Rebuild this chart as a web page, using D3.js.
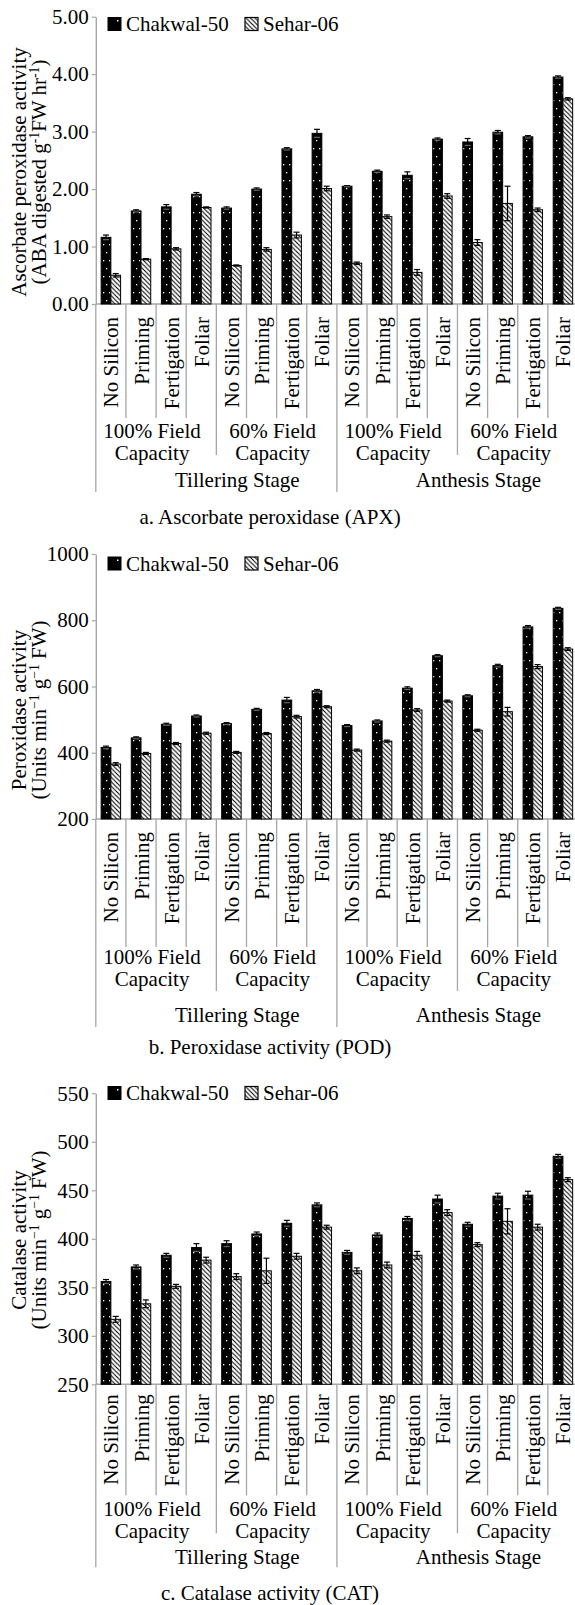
<!DOCTYPE html>
<html>
<head>
<meta charset="utf-8">
<script src="https://cdnjs.cloudflare.com/ajax/libs/d3/7.8.5/d3.min.js"></script>
<style>
body { margin: 0; background: #fff; }
</style>
</head>
<body>
<div id="chart"></div>
<script>
// categories
var treatments = ["No Silicon", "Priming", "Fertigation", "Foliar"];
var capacities = [["100% Field", "Capacity"], ["60% Field", "Capacity"]];
var stages = ["Tillering Stage", "Anthesis Stage"];
var cultivars = ["Chakwal-50", "Sehar-06"];

// a. APX
var apxChakwal = [1.16, 1.62, 1.69, 1.91, 1.67, 2.00, 2.70, 2.97, 2.05, 2.31, 2.24, 2.87, 2.82, 2.99, 2.91, 3.95];
var apxSehar = [0.50, 0.78, 0.96, 1.68, 0.67, 0.95, 1.20, 2.01, 0.71, 1.52, 0.55, 1.88, 1.07, 1.75, 1.64, 3.57];
var apxChakwalErr = [0.04, 0.02, 0.04, 0.03, 0.02, 0.02, 0.02, 0.07, 0.01, 0.02, 0.06, 0.02, 0.06, 0.03, 0.02, 0.02];
var apxSeharErr = [0.03, 0.01, 0.02, 0.01, 0.01, 0.03, 0.05, 0.04, 0.02, 0.03, 0.05, 0.04, 0.05, 0.30, 0.03, 0.02];
var apxTicks = [0, 1, 2, 3, 4, 5];

// b. POD
var podChakwal = [416, 445, 486, 511, 488, 531, 559, 587, 482, 496, 595, 693, 572, 663, 780, 836];
var podSehar = [366, 398, 428, 459, 401, 458, 509, 539, 408, 435, 529, 556, 468, 524, 660, 713];
var podChakwalErr = [4, 3, 3, 3, 3, 3, 8, 4, 3, 3, 4, 3, 3, 4, 4, 3];
var podSeharErr = [4, 3, 3, 3, 3, 3, 4, 3, 3, 3, 4, 3, 3, 13, 6, 4];
var podTicks = [200, 400, 600, 800, 1000];

// c. CAT
var catChakwal = [356, 371, 383, 391, 395, 405, 416, 435, 386, 404, 421, 441, 415, 444, 445, 485];
var catSehar = [317, 333, 351, 378, 361, 367, 382, 412, 367, 373, 383, 427, 394, 418, 412, 461];
var catChakwalErr = [2, 2, 2, 4, 3, 2, 3, 2, 2, 2, 2, 4, 2, 3, 4, 2];
var catSeharErr = [3, 4, 2, 3, 3, 13, 3, 2, 3, 3, 4, 3, 2, 13, 3, 2];
var catTicks = [250, 300, 350, 400, 450, 500, 550];

var W = 575, H = 1605, FS = 21;
var FONT = "'Liberation Serif', 'Times New Roman', serif";
var grey = "#a6a6a6";

var svg = d3.select("#chart").append("svg")
    .attr("width", W)
    .attr("height", H);

svg.append("rect").attr("width", W).attr("height", H).attr("fill", "#fff");

var defs = svg.append("defs");
var dots = defs.append("pattern")
    .attr("id", "dots")
    .attr("patternUnits", "userSpaceOnUse")
    .attr("width", 6).attr("height", 16);
dots.append("rect").attr("width", 6).attr("height", 16).attr("fill", "#000");
dots.append("rect").attr("x", 1).attr("y", 4).attr("width", 1.3).attr("height", 1.3).attr("fill", "#fff");
dots.append("rect").attr("x", 4).attr("y", 12).attr("width", 1.3).attr("height", 1.3).attr("fill", "#fff");

var hatch = defs.append("pattern")
    .attr("id", "hatch")
    .attr("patternUnits", "userSpaceOnUse")
    .attr("width", 4.5).attr("height", 4.5);
hatch.append("rect").attr("width", 4.5).attr("height", 4.5).attr("fill", "#fff");
hatch.append("path")
    .attr("d", "M-1,-1L5.5,5.5M-1,3.5L1,5.5M3.5,-1L5.5,1")
    .attr("stroke", "#000")
    .attr("stroke-width", 1.1);

var x = d3.scaleBand().domain(d3.range(16)).range([95.8, 578]);
var xs = d3.scaleBand().domain(cultivars).range([0, x.bandwidth()]).paddingOuter(0.55);

function drawChart(cfg) {
    var g = svg.append("g");
    var y = d3.scaleLinear().domain(cfg.domain).range([cfg.bottom, cfg.top]);

    // y axis
    var yAxis = g.append("g")
        .attr("transform", "translate(95.8,0)")
        .call(d3.axisLeft(y).tickValues(cfg.ticks).tickFormat(cfg.fmt).tickSize(4).tickSizeOuter(0).tickPadding(3));
    yAxis.select(".domain").attr("stroke", grey).attr("stroke-width", 1.4);
    yAxis.selectAll(".tick line").attr("stroke", grey).attr("stroke-width", 1.2);
    yAxis.selectAll(".tick text").attr("font-size", FS);

    // bottom axis line
    g.append("line")
        .attr("x1", x.range()[0]).attr("x2", x.range()[1])
        .attr("y1", cfg.bottom).attr("y2", cfg.bottom)
        .attr("stroke", grey).attr("stroke-width", 1.4);

    // separators
    var bounds = d3.range(16);
    g.selectAll(".sep").data(bounds).enter().append("line")
        .attr("x1", d => x(d)).attr("x2", d => x(d))
        .attr("y1", cfg.bottom)
        .attr("y2", d => cfg.bottom + (d % 8 === 0 ? cfg.stageSep : d % 4 === 0 ? cfg.capSep : cfg.catSep))
        .attr("stroke", grey).attr("stroke-width", 1.3);

    // bars
    var series = [
        {name: cultivars[0], vals: cfg.a, errs: cfg.aErr, fill: "url(#dots)"},
        {name: cultivars[1], vals: cfg.b, errs: cfg.bErr, fill: "url(#hatch)"}
    ];
    series.forEach(function(s) {
        g.selectAll(null).data(s.vals).enter().append("rect")
            .attr("x", (d, i) => x(i) + xs(s.name))
            .attr("y", d => y(d))
            .attr("width", xs.bandwidth())
            .attr("height", d => cfg.bottom - y(d))
            .attr("fill", s.fill)
            .attr("stroke", "#000")
            .attr("stroke-width", 1);

        var eb = g.selectAll(null).data(s.vals).enter().append("g")
            .attr("transform", (d, i) => "translate(" + (x(i) + xs(s.name) + xs.bandwidth() / 2) + ",0)");
        eb.append("line")
            .attr("y1", (d, i) => y(d - s.errs[i]))
            .attr("y2", (d, i) => y(d + s.errs[i]))
            .attr("stroke", "#000").attr("stroke-width", 1.2);
        eb.append("line")
            .attr("x1", -3).attr("x2", 3)
            .attr("y1", (d, i) => y(d + s.errs[i]))
            .attr("y2", (d, i) => y(d + s.errs[i]))
            .attr("stroke", "#000").attr("stroke-width", 1.2);
        eb.append("line")
            .attr("x1", -3).attr("x2", 3)
            .attr("y1", (d, i) => y(d - s.errs[i]))
            .attr("y2", (d, i) => y(d - s.errs[i]))
            .attr("stroke", s.name === cultivars[0] ? "#666" : "#000").attr("stroke-width", 1.2);
    });

    // category labels
    g.selectAll(".cat").data(d3.range(16)).enter().append("text")
        .attr("transform", d => "translate(" + (x(d) + x.bandwidth() / 2 + 7.5) + "," + (cfg.bottom + cfg.catTop) + ") rotate(-90)")
        .attr("text-anchor", "end")
        .attr("font-size", FS)
        .text(d => treatments[d % 4]);

    // capacity labels
    d3.range(4).forEach(function(k) {
        var cx = x(k * 4) + 2 * x.step() - 4;
        var lines = capacities[k % 2];
        g.append("text").attr("x", cx).attr("y", cfg.bottom + cfg.cap1 + 7)
            .attr("text-anchor", "middle").attr("font-size", FS).text(lines[0]);
        g.append("text").attr("x", cx).attr("y", cfg.bottom + cfg.cap2 + 7)
            .attr("text-anchor", "middle").attr("font-size", FS).text(lines[1]);
    });

    // stage labels
    stages.forEach(function(s, k) {
        var cx = x(k * 8) + 4 * x.step() + 21;
        g.append("text").attr("x", cx).attr("y", cfg.bottom + cfg.stage + 7)
            .attr("text-anchor", "middle").attr("font-size", FS).text(s);
    });

    // caption
    g.append("text").attr("x", 270).attr("y", cfg.bottom + cfg.caption + 7)
        .attr("text-anchor", "middle").attr("font-size", FS).text(cfg.captionText);

    // y title
    g.append("text")
        .attr("transform", "translate(26," + cfg.titleCy + ") rotate(-90)")
        .attr("text-anchor", "middle").attr("font-size", FS)
        .text(cfg.title1);
    var t2 = g.append("text")
        .attr("transform", "translate(46," + cfg.titleCy + ") rotate(-90)")
        .attr("text-anchor", "middle").attr("font-size", FS);
    cfg.title2.forEach(function(p) {
        var ts = t2.append("tspan").text(p[0]);
        if (p[1]) ts.attr("baseline-shift", "super").attr("font-size", FS * 0.65);
    });

    // legend
    var lg = g.append("g").attr("transform", "translate(0," + cfg.legendCy + ")");
    lg.append("rect").attr("x", 108).attr("y", -6.5).attr("width", 13).attr("height", 13)
        .attr("fill", "#000").attr("stroke", "#000");
    lg.append("rect").attr("x", 117).attr("y", -4).attr("width", 1.5).attr("height", 1.5).attr("fill", "#fff");
    lg.append("text").attr("x", 126).attr("y", 7).attr("font-size", FS).text(cultivars[0]);
    lg.append("rect").attr("x", 245).attr("y", -6.5).attr("width", 13).attr("height", 13)
        .attr("fill", "url(#hatch)").attr("stroke", "#000").attr("stroke-width", 1.2);
    lg.append("text").attr("x", 263).attr("y", 7).attr("font-size", FS).text(cultivars[1]);
}

drawChart({
    a: apxChakwal, b: apxSehar, aErr: apxChakwalErr, bErr: apxSeharErr,
    domain: [0, 5], ticks: apxTicks, fmt: d3.format(".2f"),
    top: 16.7, bottom: 304, legendCy: 24, titleCy: 172, catTop: 13,
    catSep: 114, capSep: 151, stageSep: 188, cap1: 127, cap2: 149, stage: 176, caption: 213,
    captionText: "a. Ascorbate peroxidase (APX)",
    title1: "Ascorbate peroxidase activity",
    title2: [["(ABA digested g"], ["-1", true], ["FW hr"], ["-1", true], [")"]]
});

drawChart({
    a: podChakwal, b: podSehar, aErr: podChakwalErr, bErr: podSeharErr,
    domain: [200, 1000], ticks: podTicks, fmt: d3.format("d"),
    top: 554, bottom: 819, legendCy: 563.5, titleCy: 710, catTop: 13,
    catSep: 128, capSep: 172, stageSep: 208, cap1: 138, cap2: 160, stage: 196, caption: 228,
    captionText: "b. Peroxidase activity (POD)",
    title1: "Peroxidase activity",
    title2: [["(Units min"], ["\u22121", true], [" g"], ["\u22121", true], [" FW)"]]
});

drawChart({
    a: catChakwal, b: catSehar, aErr: catChakwalErr, bErr: catSeharErr,
    domain: [250, 550], ticks: catTicks, fmt: d3.format("d"),
    top: 1093.3, bottom: 1384.3, legendCy: 1093, titleCy: 1240, catTop: 10,
    catSep: 111, capSep: 149, stageSep: 183, cap1: 125, cap2: 147, stage: 173, caption: 209,
    captionText: "c. Catalase activity (CAT)",
    title1: "Catalase activity",
    title2: [["(Units min"], ["\u22121", true], [" g"], ["\u22121", true], [" FW)"]]
});

// serif everywhere, set inline so nothing overrides it
svg.selectAll("g").attr("font-family", null);
svg.selectAll("text").style("font-family", FONT).style("fill", "#000");
</script>
</body>
</html>
